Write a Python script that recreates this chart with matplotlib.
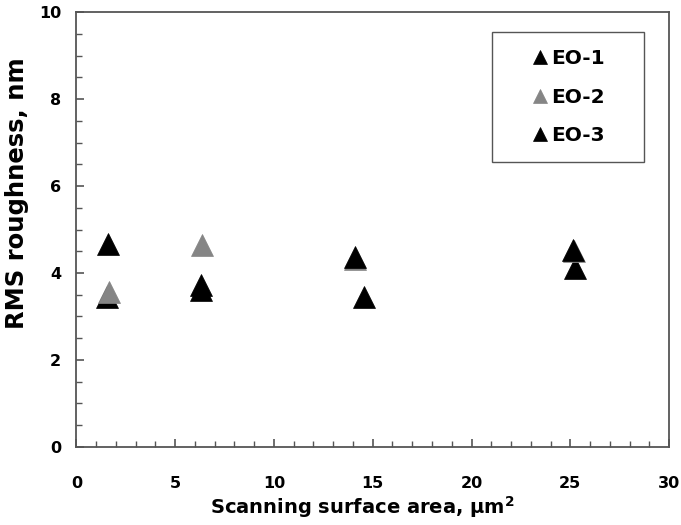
import matplotlib.pyplot as plt
from matplotlib.patches import Rectangle
from matplotlib.ticker import MultipleLocator

plt.rcParams['font.family'] = ['DejaVu Sans']
plt.rcParams['font.weight'] = 'bold'

# scanning area (um^2) and RMS roughness (nm) per sample
eo1_x = [1.55, 6.28, 14.58, 25.25]
eo1_y = [3.45, 3.60, 3.44, 4.11]
eo2_x = [1.65, 6.34, 14.10, 25.20]
eo2_y = [3.57, 4.64, 4.33, 4.50]
eo3_x = [1.58, 6.30, 14.11, 25.16]
eo3_y = [4.67, 3.73, 4.36, 4.53]

series = [
    ("EO-1", eo1_x, eo1_y, "black"),
    ("EO-2", eo2_x, eo2_y, "#858585"),
    ("EO-3", eo3_x, eo3_y, "black"),
]

fig = plt.figure(figsize=(6.81, 5.25), dpi=100)
ax = fig.add_axes([0.1123, 0.1486, 0.8701, 0.8285])

for name, xs, ys, col in series:
    ax.plot(xs, ys, linestyle="none", marker="^", markersize=16.5,
            color=col, markeredgecolor=col, markeredgewidth=0.5, label=name)

ax.set_xlim(0, 30)
ax.set_ylim(0, 10)
ax.xaxis.set_major_locator(MultipleLocator(5))
ax.xaxis.set_minor_locator(MultipleLocator(1))
ax.yaxis.set_major_locator(MultipleLocator(2))
ax.yaxis.set_minor_locator(MultipleLocator(0.5))
ax.tick_params(which="both", direction="in", color="#555555", top=False, right=False)
ax.tick_params(which="major", length=6, width=1.2, labelsize=11.5)
ax.tick_params(axis="x", which="major", pad=21)
ax.tick_params(axis="y", which="major", pad=11)
ax.tick_params(which="minor", length=4, width=1.0)
for sp in ax.spines.values():
    sp.set_color("#555555")
    sp.set_linewidth(1.3)

ax.set_xlabel("Scanning surface area, $\\mathregular{\\mu m^2}$", fontsize=14,
              fontweight="bold")
ax.set_ylabel("RMS roughness, nm", fontsize=17.5, fontweight="bold")
ax.xaxis.set_label_coords(0.483, -0.108)
ax.yaxis.set_label_coords(-0.080, 0.583)

# legend frame drawn separately so its size matches the original box
box_x0, box_y0, box_x1, box_y1 = 0.701, 0.655, 0.958, 0.954
ax.add_patch(Rectangle((box_x0, box_y0), box_x1 - box_x0, box_y1 - box_y0,
                       transform=ax.transAxes, facecolor="white",
                       edgecolor="#555555", linewidth=1.0, zorder=4))
leg = ax.legend(loc="center", bbox_to_anchor=((box_x0 + box_x1) / 2, (box_y0 + box_y1) / 2),
                fontsize=14.5, markerscale=0.65, handlelength=0.8, handletextpad=0.15,
                labelspacing=0.95, borderpad=0.2, borderaxespad=0, frameon=False)
leg.set_zorder(5)
for t in leg.get_texts():
    t.set_fontweight("bold")

fig.savefig("out.png", dpi=100)
